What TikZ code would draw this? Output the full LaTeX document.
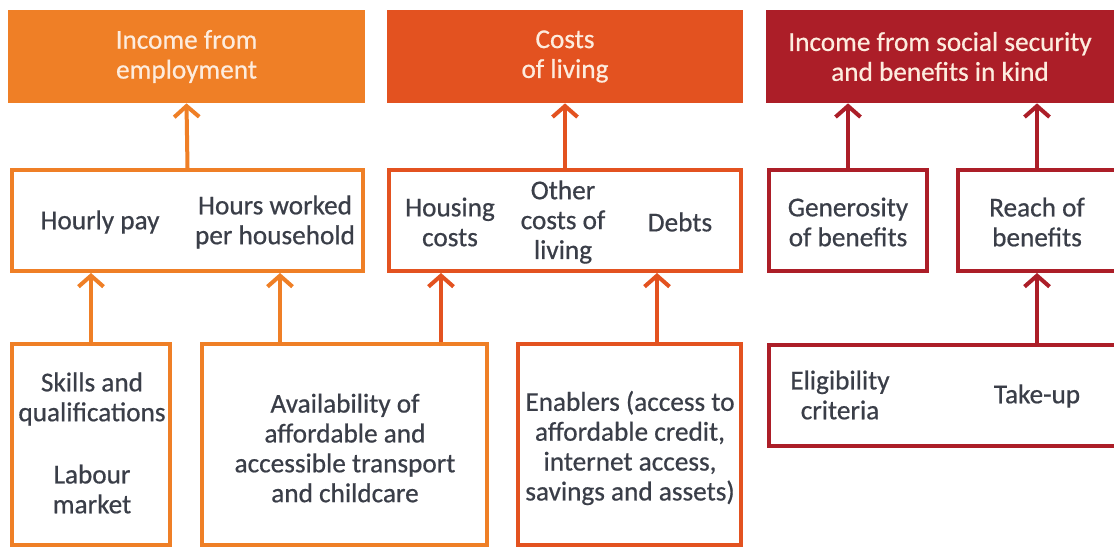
\documentclass[tikz,border=0pt]{standalone}
\usepackage{fontspec}
\setmainfont{Carlito}
\newfontfamily\boxfont{Carlito}[FakeBold=0.6]
\usepackage{tikz}
\usetikzlibrary{arrows.meta}
\definecolor{empOrange}{RGB}{239,127,38}
\definecolor{costRed}{RGB}{227,82,32}
\definecolor{socRed}{RGB}{172,30,40}
\definecolor{txtGrey}{RGB}{58,62,72}
\definecolor{headTxt}{RGB}{253,236,222}

\begin{document}
\begin{tikzpicture}[x=0.02cm, y=-0.02cm,
    head/.style={fill=#1, minimum height=1.86cm, inner sep=0pt, text=headTxt, align=center,
        font=\boxfont\fontsize{15.5}{17}\selectfont},
    box/.style={draw=#1, line width=0.08cm, inner sep=0pt},
    lbl/.style={text=txtGrey, align=center, font=\boxfont\fontsize{15.5}{17}\selectfont},
    up/.style={draw=#1, line width=0.08cm, -{Straight Barb[length=0.22cm, width=0.5cm]}}]
    \useasboundingbox[fill=white] (0,0) rectangle (1114,547);

    % top row
    \node[head=empOrange, minimum width=7.14cm] (incEmp) at (186.5,56.5) {Income from\\employment};
    \node[head=costRed,   minimum width=7.12cm] (costs)  at (565,56.5)   {Costs\\of living};
    \node[head=socRed,    minimum width=6.96cm] (incSoc) at (940,56.5)   {Income from social security\\and benefits in kind};

    % middle row
    \node[box=empOrange, minimum width=7.02cm, minimum height=2.02cm] (midA)  at (187.5,220.5) {};
    \node[box=costRed,   minimum width=7.04cm, minimum height=2.02cm] (midB)  at (565,220.5)   {};
    \node[box=socRed,    minimum width=3.16cm, minimum height=2.02cm] (gener) at (848,220.5)   {};
    \node[box=socRed,    minimum width=3.44cm, minimum height=2.02cm] (reach) at (1044,220.5)  {};

    \node[lbl] (payT)     at (100,222)  {Hourly pay};
    \node[lbl] (hoursT)   at (275,222)  {Hours worked\\per household};
    \node[lbl] (housingT) at (450,222)  {Housing\\costs};
    \node[lbl] (otherT)   at (563,222)  {Other\\costs of\\living};
    \node[lbl] (debtsT)   at (680,222)  {Debts};
    \node[lbl] (generT)   at (848,222)  {Generosity\\of benefits};
    \node[lbl] (reachT)   at (1037,222) {Reach of\\benefits};

    % bottom row
    \node[box=empOrange, minimum width=3.16cm, minimum height=4.02cm] (skills) at (91,444.5)    {};
    \node[box=empOrange, minimum width=5.7cm,  minimum height=4.02cm] (avail)  at (344.5,444.5) {};
    \node[box=costRed,   minimum width=4.46cm, minimum height=4.02cm] (enab)   at (629.5,444.5) {};
    \node[box=socRed,    minimum width=7.22cm, minimum height=2.02cm] (elig)   at (949.5,395.5) {};

    \node[lbl] (skillsT) at (92,399)  {Skills and\\qualifications};
    \node[lbl] (labourT) at (92,489)  {Labour\\market};
    \node[lbl] (availT)  at (345,448) {Availability of\\affordable and\\accessible transport\\and childcare};
    \node[lbl] (enabT)   at (630,448) {Enablers (access to\\affordable credit,\\internet access,\\savings and assets)};
    \node[lbl] (eligT)   at (840,395) {Eligibility\\criteria};
    \node[lbl] (takeT)   at (1037,396) {Take-up};

    % arrow columns
    \coordinate (cHours)   at (280,0);
    \coordinate (cHousing) at (441,0);
    \coordinate (cDebts)   at (657,0);

    \draw[up=empOrange] (midA.north)  -- (incEmp.south);
    \draw[up=costRed]   (midB.north)  -- (costs.south);
    \draw[up=socRed]    (gener.north) -- (incSoc.south -| gener.north);
    \draw[up=socRed]    (reach.north -| reachT) -- (incSoc.south -| reachT);

    \draw[up=empOrange] (skills.north) -- (midA.south -| skills.north);
    \draw[up=empOrange] (avail.north -| cHours)   -- (midA.south -| cHours);
    \draw[up=costRed]   (avail.north -| cHousing) -- (midB.south -| cHousing);
    \draw[up=costRed]   (enab.north -| cDebts)    -- (midB.south -| cDebts);
    \draw[up=socRed]    (elig.north -| reachT)    -- (reach.south -| reachT);
\end{tikzpicture}
\end{document}
